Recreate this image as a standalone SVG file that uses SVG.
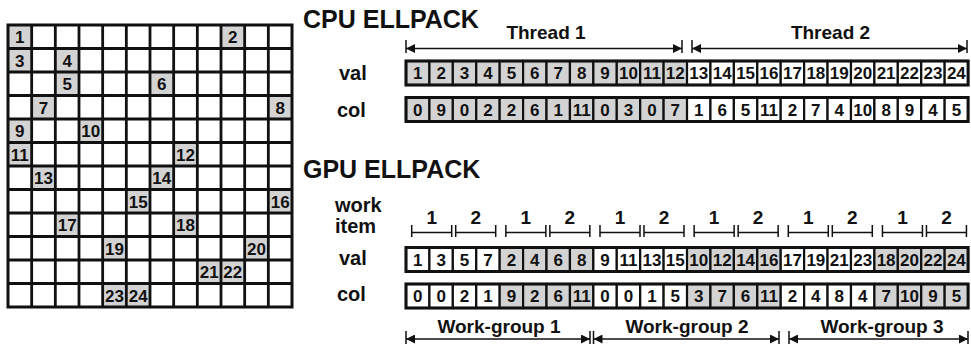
<svg xmlns="http://www.w3.org/2000/svg" width="971" height="346" viewBox="0 0 971 346">
<style>
text{font-family:"Liberation Sans",Arial,sans-serif;font-weight:bold;fill:#111}
.t{font-size:25px}
.lb{font-size:20px}
.n{font-size:17px;text-anchor:middle}
.c{font-size:19px;text-anchor:middle}
.g{fill:#d3d3d3}
.cw{fill:#fff;stroke:#111;stroke-width:2.2}
.cg{fill:#d3d3d3;stroke:#111;stroke-width:2.2}
.outer{fill:none;stroke:#111;stroke-width:3}
.ln{stroke:#111;stroke-width:1.5;fill:none}
.ar{stroke:#111;stroke-width:1.5;fill:none;marker-start:url(#ah);marker-end:url(#ah)}
</style>
<defs>
<marker id="ah" viewBox="0 0 10 10" refX="10" refY="5" markerWidth="9" markerHeight="9" markerUnits="userSpaceOnUse" orient="auto-start-reverse">
<path d="M0,0 L10,5 L0,10 z" fill="#111"/>
</marker>
</defs>
<rect width="971" height="346" fill="#fff"/>

<g id="matrix">
<g class="g">
<rect x="8" y="25" width="23.67" height="23.5"/>
<rect x="221" y="25" width="23.67" height="23.5"/>
<rect x="8" y="48.5" width="23.67" height="23.5"/>
<rect x="55.33" y="48.5" width="23.67" height="23.5"/>
<rect x="55.33" y="72" width="23.67" height="23.5"/>
<rect x="150" y="72" width="23.67" height="23.5"/>
<rect x="31.67" y="95.5" width="23.67" height="23.5"/>
<rect x="268.33" y="95.5" width="23.67" height="23.5"/>
<rect x="8" y="119" width="23.67" height="23.5"/>
<rect x="79" y="119" width="23.67" height="23.5"/>
<rect x="8" y="142.5" width="23.67" height="23.5"/>
<rect x="173.67" y="142.5" width="23.67" height="23.5"/>
<rect x="31.67" y="166" width="23.67" height="23.5"/>
<rect x="150" y="166" width="23.67" height="23.5"/>
<rect x="126.33" y="189.5" width="23.67" height="23.5"/>
<rect x="268.33" y="189.5" width="23.67" height="23.5"/>
<rect x="55.33" y="213" width="23.67" height="23.5"/>
<rect x="173.67" y="213" width="23.67" height="23.5"/>
<rect x="102.67" y="236.5" width="23.67" height="23.5"/>
<rect x="244.67" y="236.5" width="23.67" height="23.5"/>
<rect x="197.33" y="260" width="23.67" height="23.5"/>
<rect x="221" y="260" width="23.67" height="23.5"/>
<rect x="102.67" y="283.5" width="23.67" height="23.5"/>
<rect x="126.33" y="283.5" width="23.67" height="23.5"/>
</g>
<path stroke="#111" stroke-width="2.8" fill="none" d="M8,48.5H292M8,72H292M8,95.5H292M8,119H292M8,142.5H292M8,166H292M8,189.5H292M8,213H292M8,236.5H292M8,260H292M8,283.5H292M31.67,25V307M55.33,25V307M79,25V307M102.67,25V307M126.33,25V307M150,25V307M173.67,25V307M197.33,25V307M221,25V307M244.67,25V307M268.33,25V307"/>
<rect class="outer" x="8" y="25" width="284" height="282"/>
<text class="n" x="19.83" y="43">1</text>
<text class="n" x="232.83" y="43">2</text>
<text class="n" x="19.83" y="66.5">3</text>
<text class="n" x="67.17" y="66.5">4</text>
<text class="n" x="67.17" y="90">5</text>
<text class="n" x="161.83" y="90">6</text>
<text class="n" x="43.5" y="113.5">7</text>
<text class="n" x="280.17" y="113.5">8</text>
<text class="n" x="19.83" y="137">9</text>
<text class="n" x="90.83" y="137">10</text>
<text class="n" x="19.83" y="160.5">11</text>
<text class="n" x="185.5" y="160.5">12</text>
<text class="n" x="43.5" y="184">13</text>
<text class="n" x="161.83" y="184">14</text>
<text class="n" x="138.17" y="207.5">15</text>
<text class="n" x="280.17" y="207.5">16</text>
<text class="n" x="67.17" y="231">17</text>
<text class="n" x="185.5" y="231">18</text>
<text class="n" x="114.5" y="254.5">19</text>
<text class="n" x="256.5" y="254.5">20</text>
<text class="n" x="209.17" y="278">21</text>
<text class="n" x="232.83" y="278">22</text>
<text class="n" x="114.5" y="301.5">23</text>
<text class="n" x="138.17" y="301.5">24</text>
</g>

<g id="titles">
<text class="t" x="303" y="27.5">CPU ELLPACK</text>
<text class="t" x="303" y="178">GPU ELLPACK</text>
</g>

<g id="labels">
<text class="lb" x="339" y="80">val</text>
<text class="lb" x="337" y="116.5">col</text>
<text class="lb" x="335" y="212">work</text>
<text class="lb" x="335" y="232.5">item</text>
<text class="lb" x="339" y="265">val</text>
<text class="lb" x="337" y="301">col</text>
<text class="c" x="546" y="39">Thread 1</text>
<text class="c" x="830.5" y="39">Thread 2</text>
<text class="c" x="499" y="333">Work-group 1</text>
<text class="c" x="687" y="333">Work-group 2</text>
<text class="c" x="882" y="333">Work-group 3</text>
</g>

<g id="cpu-val">
<rect class="cg" x="406" y="61" width="23.42" height="24"/>
<rect class="cg" x="429.42" y="61" width="23.42" height="24"/>
<rect class="cg" x="452.84" y="61" width="23.42" height="24"/>
<rect class="cg" x="476.26" y="61" width="23.42" height="24"/>
<rect class="cg" x="499.68" y="61" width="23.42" height="24"/>
<rect class="cg" x="523.1" y="61" width="23.42" height="24"/>
<rect class="cg" x="546.52" y="61" width="23.42" height="24"/>
<rect class="cg" x="569.94" y="61" width="23.42" height="24"/>
<rect class="cg" x="593.36" y="61" width="23.42" height="24"/>
<rect class="cg" x="616.78" y="61" width="23.42" height="24"/>
<rect class="cg" x="640.2" y="61" width="23.42" height="24"/>
<rect class="cg" x="663.62" y="61" width="23.42" height="24"/>
<rect class="cw" x="687.04" y="61" width="23.42" height="24"/>
<rect class="cw" x="710.46" y="61" width="23.42" height="24"/>
<rect class="cw" x="733.88" y="61" width="23.42" height="24"/>
<rect class="cw" x="757.3" y="61" width="23.42" height="24"/>
<rect class="cw" x="780.72" y="61" width="23.42" height="24"/>
<rect class="cw" x="804.14" y="61" width="23.42" height="24"/>
<rect class="cw" x="827.56" y="61" width="23.42" height="24"/>
<rect class="cw" x="850.98" y="61" width="23.42" height="24"/>
<rect class="cw" x="874.4" y="61" width="23.42" height="24"/>
<rect class="cw" x="897.82" y="61" width="23.42" height="24"/>
<rect class="cw" x="921.24" y="61" width="23.42" height="24"/>
<rect class="cw" x="944.66" y="61" width="23.42" height="24"/>
<rect class="outer" x="406" y="61" width="562.08" height="24"/>
<text class="n" x="417.71" y="79">1</text>
<text class="n" x="441.13" y="79">2</text>
<text class="n" x="464.55" y="79">3</text>
<text class="n" x="487.97" y="79">4</text>
<text class="n" x="511.39" y="79">5</text>
<text class="n" x="534.81" y="79">6</text>
<text class="n" x="558.23" y="79">7</text>
<text class="n" x="581.65" y="79">8</text>
<text class="n" x="605.07" y="79">9</text>
<text class="n" x="628.49" y="79">10</text>
<text class="n" x="651.91" y="79">11</text>
<text class="n" x="675.33" y="79">12</text>
<text class="n" x="698.75" y="79">13</text>
<text class="n" x="722.17" y="79">14</text>
<text class="n" x="745.59" y="79">15</text>
<text class="n" x="769.01" y="79">16</text>
<text class="n" x="792.43" y="79">17</text>
<text class="n" x="815.85" y="79">18</text>
<text class="n" x="839.27" y="79">19</text>
<text class="n" x="862.69" y="79">20</text>
<text class="n" x="886.11" y="79">21</text>
<text class="n" x="909.53" y="79">22</text>
<text class="n" x="932.95" y="79">23</text>
<text class="n" x="956.37" y="79">24</text>
</g>

<g id="cpu-col">
<rect class="cg" x="406" y="97.5" width="23.42" height="24"/>
<rect class="cg" x="429.42" y="97.5" width="23.42" height="24"/>
<rect class="cg" x="452.84" y="97.5" width="23.42" height="24"/>
<rect class="cg" x="476.26" y="97.5" width="23.42" height="24"/>
<rect class="cg" x="499.68" y="97.5" width="23.42" height="24"/>
<rect class="cg" x="523.1" y="97.5" width="23.42" height="24"/>
<rect class="cg" x="546.52" y="97.5" width="23.42" height="24"/>
<rect class="cg" x="569.94" y="97.5" width="23.42" height="24"/>
<rect class="cg" x="593.36" y="97.5" width="23.42" height="24"/>
<rect class="cg" x="616.78" y="97.5" width="23.42" height="24"/>
<rect class="cg" x="640.2" y="97.5" width="23.42" height="24"/>
<rect class="cg" x="663.62" y="97.5" width="23.42" height="24"/>
<rect class="cw" x="687.04" y="97.5" width="23.42" height="24"/>
<rect class="cw" x="710.46" y="97.5" width="23.42" height="24"/>
<rect class="cw" x="733.88" y="97.5" width="23.42" height="24"/>
<rect class="cw" x="757.3" y="97.5" width="23.42" height="24"/>
<rect class="cw" x="780.72" y="97.5" width="23.42" height="24"/>
<rect class="cw" x="804.14" y="97.5" width="23.42" height="24"/>
<rect class="cw" x="827.56" y="97.5" width="23.42" height="24"/>
<rect class="cw" x="850.98" y="97.5" width="23.42" height="24"/>
<rect class="cw" x="874.4" y="97.5" width="23.42" height="24"/>
<rect class="cw" x="897.82" y="97.5" width="23.42" height="24"/>
<rect class="cw" x="921.24" y="97.5" width="23.42" height="24"/>
<rect class="cw" x="944.66" y="97.5" width="23.42" height="24"/>
<rect class="outer" x="406" y="97.5" width="562.08" height="24"/>
<text class="n" x="417.71" y="115.5">0</text>
<text class="n" x="441.13" y="115.5">9</text>
<text class="n" x="464.55" y="115.5">0</text>
<text class="n" x="487.97" y="115.5">2</text>
<text class="n" x="511.39" y="115.5">2</text>
<text class="n" x="534.81" y="115.5">6</text>
<text class="n" x="558.23" y="115.5">1</text>
<text class="n" x="581.65" y="115.5">11</text>
<text class="n" x="605.07" y="115.5">0</text>
<text class="n" x="628.49" y="115.5">3</text>
<text class="n" x="651.91" y="115.5">0</text>
<text class="n" x="675.33" y="115.5">7</text>
<text class="n" x="698.75" y="115.5">1</text>
<text class="n" x="722.17" y="115.5">6</text>
<text class="n" x="745.59" y="115.5">5</text>
<text class="n" x="769.01" y="115.5">11</text>
<text class="n" x="792.43" y="115.5">2</text>
<text class="n" x="815.85" y="115.5">7</text>
<text class="n" x="839.27" y="115.5">4</text>
<text class="n" x="862.69" y="115.5">10</text>
<text class="n" x="886.11" y="115.5">8</text>
<text class="n" x="909.53" y="115.5">9</text>
<text class="n" x="932.95" y="115.5">4</text>
<text class="n" x="956.37" y="115.5">5</text>
</g>

<g id="gpu-val">
<rect class="cw" x="406" y="247.5" width="23.42" height="24"/>
<rect class="cw" x="429.42" y="247.5" width="23.42" height="24"/>
<rect class="cw" x="452.84" y="247.5" width="23.42" height="24"/>
<rect class="cw" x="476.26" y="247.5" width="23.42" height="24"/>
<rect class="cg" x="499.68" y="247.5" width="23.42" height="24"/>
<rect class="cg" x="523.1" y="247.5" width="23.42" height="24"/>
<rect class="cg" x="546.52" y="247.5" width="23.42" height="24"/>
<rect class="cg" x="569.94" y="247.5" width="23.42" height="24"/>
<rect class="cw" x="593.36" y="247.5" width="23.42" height="24"/>
<rect class="cw" x="616.78" y="247.5" width="23.42" height="24"/>
<rect class="cw" x="640.2" y="247.5" width="23.42" height="24"/>
<rect class="cw" x="663.62" y="247.5" width="23.42" height="24"/>
<rect class="cg" x="687.04" y="247.5" width="23.42" height="24"/>
<rect class="cg" x="710.46" y="247.5" width="23.42" height="24"/>
<rect class="cg" x="733.88" y="247.5" width="23.42" height="24"/>
<rect class="cg" x="757.3" y="247.5" width="23.42" height="24"/>
<rect class="cw" x="780.72" y="247.5" width="23.42" height="24"/>
<rect class="cw" x="804.14" y="247.5" width="23.42" height="24"/>
<rect class="cw" x="827.56" y="247.5" width="23.42" height="24"/>
<rect class="cw" x="850.98" y="247.5" width="23.42" height="24"/>
<rect class="cg" x="874.4" y="247.5" width="23.42" height="24"/>
<rect class="cg" x="897.82" y="247.5" width="23.42" height="24"/>
<rect class="cg" x="921.24" y="247.5" width="23.42" height="24"/>
<rect class="cg" x="944.66" y="247.5" width="23.42" height="24"/>
<rect class="outer" x="406" y="247.5" width="562.08" height="24"/>
<text class="n" x="417.71" y="265.5">1</text>
<text class="n" x="441.13" y="265.5">3</text>
<text class="n" x="464.55" y="265.5">5</text>
<text class="n" x="487.97" y="265.5">7</text>
<text class="n" x="511.39" y="265.5">2</text>
<text class="n" x="534.81" y="265.5">4</text>
<text class="n" x="558.23" y="265.5">6</text>
<text class="n" x="581.65" y="265.5">8</text>
<text class="n" x="605.07" y="265.5">9</text>
<text class="n" x="628.49" y="265.5">11</text>
<text class="n" x="651.91" y="265.5">13</text>
<text class="n" x="675.33" y="265.5">15</text>
<text class="n" x="698.75" y="265.5">10</text>
<text class="n" x="722.17" y="265.5">12</text>
<text class="n" x="745.59" y="265.5">14</text>
<text class="n" x="769.01" y="265.5">16</text>
<text class="n" x="792.43" y="265.5">17</text>
<text class="n" x="815.85" y="265.5">19</text>
<text class="n" x="839.27" y="265.5">21</text>
<text class="n" x="862.69" y="265.5">23</text>
<text class="n" x="886.11" y="265.5">18</text>
<text class="n" x="909.53" y="265.5">20</text>
<text class="n" x="932.95" y="265.5">22</text>
<text class="n" x="956.37" y="265.5">24</text>
</g>

<g id="gpu-col">
<rect class="cw" x="406" y="284" width="23.42" height="24"/>
<rect class="cw" x="429.42" y="284" width="23.42" height="24"/>
<rect class="cw" x="452.84" y="284" width="23.42" height="24"/>
<rect class="cw" x="476.26" y="284" width="23.42" height="24"/>
<rect class="cg" x="499.68" y="284" width="23.42" height="24"/>
<rect class="cg" x="523.1" y="284" width="23.42" height="24"/>
<rect class="cg" x="546.52" y="284" width="23.42" height="24"/>
<rect class="cg" x="569.94" y="284" width="23.42" height="24"/>
<rect class="cw" x="593.36" y="284" width="23.42" height="24"/>
<rect class="cw" x="616.78" y="284" width="23.42" height="24"/>
<rect class="cw" x="640.2" y="284" width="23.42" height="24"/>
<rect class="cw" x="663.62" y="284" width="23.42" height="24"/>
<rect class="cg" x="687.04" y="284" width="23.42" height="24"/>
<rect class="cg" x="710.46" y="284" width="23.42" height="24"/>
<rect class="cg" x="733.88" y="284" width="23.42" height="24"/>
<rect class="cg" x="757.3" y="284" width="23.42" height="24"/>
<rect class="cw" x="780.72" y="284" width="23.42" height="24"/>
<rect class="cw" x="804.14" y="284" width="23.42" height="24"/>
<rect class="cw" x="827.56" y="284" width="23.42" height="24"/>
<rect class="cw" x="850.98" y="284" width="23.42" height="24"/>
<rect class="cg" x="874.4" y="284" width="23.42" height="24"/>
<rect class="cg" x="897.82" y="284" width="23.42" height="24"/>
<rect class="cg" x="921.24" y="284" width="23.42" height="24"/>
<rect class="cg" x="944.66" y="284" width="23.42" height="24"/>
<rect class="outer" x="406" y="284" width="562.08" height="24"/>
<text class="n" x="417.71" y="302">0</text>
<text class="n" x="441.13" y="302">0</text>
<text class="n" x="464.55" y="302">2</text>
<text class="n" x="487.97" y="302">1</text>
<text class="n" x="511.39" y="302">9</text>
<text class="n" x="534.81" y="302">2</text>
<text class="n" x="558.23" y="302">6</text>
<text class="n" x="581.65" y="302">11</text>
<text class="n" x="605.07" y="302">0</text>
<text class="n" x="628.49" y="302">0</text>
<text class="n" x="651.91" y="302">1</text>
<text class="n" x="675.33" y="302">5</text>
<text class="n" x="698.75" y="302">3</text>
<text class="n" x="722.17" y="302">7</text>
<text class="n" x="745.59" y="302">6</text>
<text class="n" x="769.01" y="302">11</text>
<text class="n" x="792.43" y="302">2</text>
<text class="n" x="815.85" y="302">4</text>
<text class="n" x="839.27" y="302">8</text>
<text class="n" x="862.69" y="302">4</text>
<text class="n" x="886.11" y="302">7</text>
<text class="n" x="909.53" y="302">10</text>
<text class="n" x="932.95" y="302">9</text>
<text class="n" x="956.37" y="302">5</text>
</g>

<g id="connectors">
<line class="ar" x1="406" y1="48.5" x2="682" y2="48.5"/>
<line class="ar" x1="692" y1="48.5" x2="967" y2="48.5"/>
<path class="ln" stroke-width="2" d="M406,40V53M682,40V53M692,40V53M967,40V53"/>
<line class="ar" x1="406" y1="339" x2="590" y2="339"/>
<line class="ar" x1="593.5" y1="339" x2="779" y2="339"/>
<line class="ar" x1="789" y1="339" x2="968" y2="339"/>
<path class="ln" stroke-width="2" d="M406,331V344M590,331V344M593.5,331V344M779,331V344M789,331V344M968,331V344"/>
<path class="ln" d="M411.7,232.5H451.7M411.7,225V237M451.7,225V237M455.7,232.5H495.7M455.7,225V237M495.7,225V237M505.85,232.5H545.85M505.85,225V237M545.85,225V237M549.85,232.5H589.85M549.85,225V237M589.85,225V237M600,232.5H640M600,225V237M640,225V237M644,232.5H684M644,225V237M684,225V237M694.15,232.5H734.15M694.15,225V237M734.15,225V237M738.15,232.5H778.15M738.15,225V237M778.15,225V237M788.3,232.5H828.3M788.3,225V237M828.3,225V237M832.3,232.5H872.3M832.3,225V237M872.3,225V237M882.45,232.5H922.45M882.45,225V237M922.45,225V237M926.45,232.5H966.45M926.45,225V237M966.45,225V237"/>
<text class="c" x="431.7" y="223.5">1</text>
<text class="c" x="475.7" y="223.5">2</text>
<text class="c" x="525.85" y="223.5">1</text>
<text class="c" x="569.85" y="223.5">2</text>
<text class="c" x="620" y="223.5">1</text>
<text class="c" x="664" y="223.5">2</text>
<text class="c" x="714.15" y="223.5">1</text>
<text class="c" x="758.15" y="223.5">2</text>
<text class="c" x="808.3" y="223.5">1</text>
<text class="c" x="852.3" y="223.5">2</text>
<text class="c" x="902.45" y="223.5">1</text>
<text class="c" x="946.45" y="223.5">2</text>
</g>
</svg>
